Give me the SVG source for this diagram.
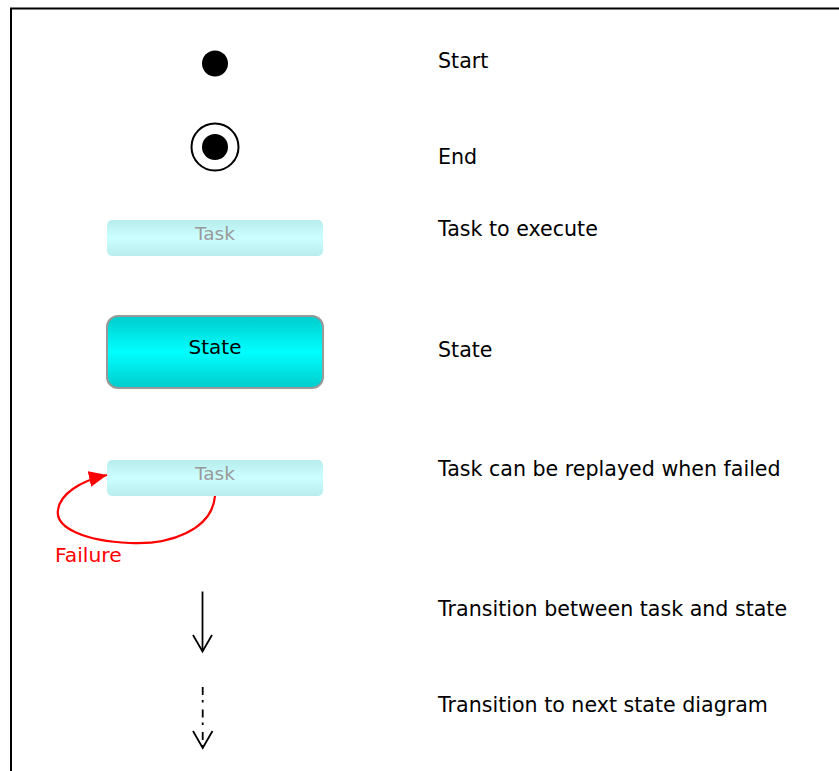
<svg xmlns="http://www.w3.org/2000/svg" width="839" height="771" viewBox="0 0 839 771">
<defs>
<linearGradient id="gTask" x1="0" y1="0" x2="0" y2="1">
<stop offset="0" stop-color="#b8eded"/>
<stop offset="0.5" stop-color="#ccffff"/>
<stop offset="1" stop-color="#b8eded"/>
</linearGradient>
<linearGradient id="gState" x1="0" y1="0" x2="0" y2="1">
<stop offset="0" stop-color="#00cccc"/>
<stop offset="0.5" stop-color="#00ffff"/>
<stop offset="1" stop-color="#00cccc"/>
</linearGradient>
<marker id="redHead" markerUnits="userSpaceOnUse" markerWidth="24" markerHeight="24" refX="18" refY="8" orient="auto" viewBox="0 0 24 24">
<path d="M0,0 L18,8 L0,16 z" fill="#ff0000"/>
</marker>
</defs>
<style>
.lbl{font-family:"DejaVu Sans",sans-serif;font-size:20.6px;fill:#000}
.task rect{fill:url(#gTask)}
.task text{font-family:"DejaVu Sans",sans-serif;font-size:18.5px;fill:#999;text-anchor:middle}
.state rect{fill:url(#gState);stroke:#999;stroke-width:2}
.state text{font-family:"DejaVu Sans",sans-serif;font-size:20px;fill:#000;text-anchor:middle}
.edge{fill:none;stroke:#000;stroke-width:1.8}
</style>
<rect x="0" y="0" width="839" height="771" fill="#fff"/>
<rect x="11" y="8.5" width="900" height="900" fill="none" stroke="#000" stroke-width="2"/>
<g id="start"><circle cx="215" cy="63.5" r="13" fill="#000"/></g>
<g id="end"><circle cx="215" cy="147" r="23.5" fill="none" stroke="#000" stroke-width="2"/><circle cx="215" cy="147" r="13" fill="#000"/></g>
<g id="task1" class="task"><rect x="107" y="220" width="216" height="36" rx="5"/><text x="215" y="240">Task</text></g>
<g id="state1" class="state"><rect x="107" y="316" width="216" height="72" rx="11"/><text x="215" y="354">State</text></g>
<g id="task2" class="task"><rect x="107" y="460" width="216" height="36" rx="5"/><text x="215" y="480">Task</text></g>
<g id="connectors">
<path d="M215,496 C212,530 170,545 130,543 C85,541 55,528 58,510 C60,494 80,481 107,475" fill="none" stroke="#ff0000" stroke-width="2.2" marker-end="url(#redHead)"/>
<line class="edge" x1="202.5" y1="591.5" x2="202.5" y2="651"/>
<polyline class="edge" points="193,635 202.5,651.5 212,635"/>
<line class="edge" x1="202.7" y1="687" x2="202.7" y2="748" stroke-dasharray="8,5,2.5,7"/>
<polyline class="edge" points="193,731 202.7,748 212.5,731"/>
</g>
<text x="55" y="562" font-family="DejaVu Sans, sans-serif" font-size="20.3" fill="#ff0000">Failure</text>
<g id="labels">
<text class="lbl" x="438" y="68">Start</text>
<text class="lbl" x="438" y="164">End</text>
<text class="lbl" x="438" y="236">Task to execute</text>
<text class="lbl" x="438" y="356.5">State</text>
<text class="lbl" x="438" y="476">Task can be replayed when failed</text>
<text class="lbl" x="438" y="616">Transition between task and state</text>
<text class="lbl" x="438" y="711.5">Transition to next state diagram</text>
</g>
</svg>
